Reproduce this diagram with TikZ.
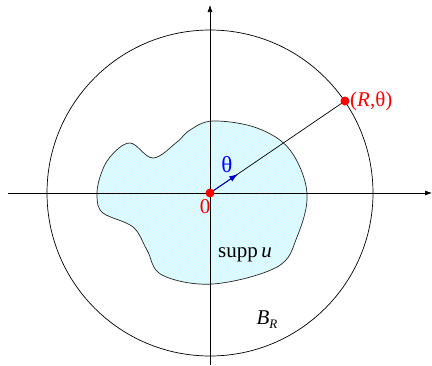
\documentclass[tikz,border=0pt]{standalone}
\usepackage{fontspec}
\setmainfont{Liberation Serif}
\usetikzlibrary{arrows.meta,patterns,calc}
\begin{document}
\begin{tikzpicture}[x=1pt,y=-1pt,
  axis/.style={line width=0.6pt,-{Latex[length=7pt,width=5pt]}},
  dot/.style={circle,fill=red,inner sep=0pt,minimum size=9pt},
  lbl/.style={font=\fontsize{21}{21}\selectfont,inner sep=0pt}]
\useasboundingbox (0,0) rectangle (432,365);
\coordinate (O) at (210,193);
\coordinate (P) at (345,101);
% blob
\path[fill=cyan!9] plot[smooth cycle,tension=0.6] coordinates {
 (213,121) (257,128) (290,150) (307,193) (297,237) (277,267) (213,284)
 (162,275) (147,250) (133,227) (103,213) (97,197) (100,177) (110,157)
 (130,143) (153,158) (177,142) (190,130)};
\path[pattern=north east lines,pattern color=cyan!25] plot[smooth cycle,tension=0.6] coordinates {
 (213,121) (257,128) (290,150) (307,193) (297,237) (277,267) (213,284)
 (162,275) (147,250) (133,227) (103,213) (97,197) (100,177) (110,157)
 (130,143) (153,158) (177,142) (190,130)};
\draw[line width=0.7pt,black!85] plot[smooth cycle,tension=0.6] coordinates {
 (213,121) (257,128) (290,150) (307,193) (297,237) (277,267) (213,284)
 (162,275) (147,250) (133,227) (103,213) (97,197) (100,177) (110,157)
 (130,143) (153,158) (177,142) (190,130)};
% axes
\coordinate (xl) at (8,193);
\coordinate (xr) at (432,193);
\coordinate (yb) at (210,365);
\coordinate (yt) at (210,5);
\draw[axis] (xl) -- (xr);
\draw[axis] (yb) -- (yt);
% circle
\draw[line width=0.7pt] (O) circle[radius=163];
% ray
\draw[line width=0.7pt] (O) -- (P);
\coordinate (A) at ($(O)!34pt!(P)$);
\draw[blue!80!black,line width=0.9pt,-{Latex[length=9pt,width=6pt]}] (O) -- (A);
\node[dot] (Od) at (O) {};
\node[dot] (Pd) at (P) {};
% labels
\node[lbl,text=red] (zero) at (205,207) {0};
\node[lbl,text=blue,font=\fontsize{23}{23}\selectfont] (th) at (227,165) {θ};
\node[lbl,text=red,anchor=west] (Rth) at (350,101) {(\textit{R},θ)};
\node[lbl] (supp) at (245,255) {supp\,\textit{u}};
\node[lbl] (BR) at (267,320) {\textit{B}\raisebox{-4pt}{\fontsize{13}{13}\selectfont\textit{R}}};
\end{tikzpicture}
\end{document}
